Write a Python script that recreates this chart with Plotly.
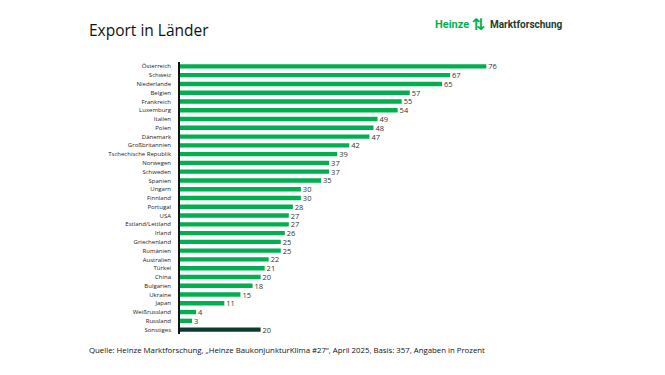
import plotly.graph_objects as go

countries = ["Österreich", "Schweiz", "Niederlande", "Belgien", "Frankreich", "Luxemburg",
             "Italien", "Polen", "Dänemark", "Großbritannien", "Tschechische Republik",
             "Norwegen", "Schweden", "Spanien", "Ungarn", "Finnland", "Portugal", "USA",
             "Estland/Lettland", "Irland", "Griechenland", "Rumänien", "Australien", "Türkei",
             "China", "Bulgarien", "Ukraine", "Japan", "Weißrussland", "Russland", "Sonstiges"]
values = [76, 67, 65, 57, 55, 54, 49, 48, 47, 42, 39, 37, 37, 35, 30, 30, 28, 27, 27, 26,
          25, 25, 22, 21, 20, 18, 15, 11, 4, 3, 20]

GREEN = "#00b050"
DARK = "#0e3b30"
colors = [DARK if c == "Sonstiges" else GREEN for c in countries]

FONT = "Open Sans, Noto Sans, sans-serif"

W, H = 665, 375
ML, MR, MT, MB = 180, 65, 62, 41
PW, PH = W - ML - MR, H - MT - MB


def px(x):
    return (x - ML) / PW


def py(y):
    return (H - MB - y) / PH


fig = go.Figure(go.Bar(
    x=values, y=countries, orientation="h",
    marker=dict(color=colors, line=dict(width=0)),
    width=0.5,
    text=[str(v) for v in values], texttemplate=" %{text}", textposition="outside",
    constraintext="none", textangle=0,
    textfont=dict(size=7.5, color="#333333", family=FONT),
    cliponaxis=False,
))

fig.update_layout(
    width=W, height=H,
    margin=dict(l=ML, r=MR, t=MT, b=MB, autoexpand=False),
    paper_bgcolor="white", plot_bgcolor="white",
    showlegend=False,
    font=dict(family=FONT),
    xaxis=dict(range=[0, 104.2], visible=False, automargin=False),
    yaxis=dict(categoryorder="array", categoryarray=countries[::-1],
               showline=True, linecolor="#111111", linewidth=1.5,
               ticks="", tickfont=dict(size=6, color="#222222", family=FONT),
               ticklabelstandoff=6, showgrid=False, zeroline=False, automargin=False),
    annotations=[
        dict(text="Export in Länder", x=px(87), y=py(30), xref="paper", yref="paper",
             showarrow=False, xanchor="left", yanchor="middle",
             font=dict(size=15.5, color="#111111", family=FONT)),
        dict(text="Quelle: Heinze Marktforschung, „Heinze BaukonjunkturKlima #27“, April 2025, Basis: 357, Angaben in Prozent",
             x=px(87), y=py(350), xref="paper", yref="paper", showarrow=False,
             xanchor="left", yanchor="middle",
             font=dict(size=7.8, color="#111111", family=FONT)),
        dict(text="<b>Heinze</b>", x=px(433), y=py(24), xref="paper", yref="paper",
             showarrow=False, xanchor="left", yanchor="middle",
             font=dict(size=11, color=GREEN, family="Roboto, sans-serif")),
        dict(text="<b>⇅</b>", x=px(478.5), y=py(24), xref="paper", yref="paper",
             showarrow=False, xanchor="center", yanchor="middle",
             font=dict(size=16, color=GREEN, family="DejaVu Sans")),
        dict(text="<b>Marktforschung</b>", x=px(488), y=py(24), xref="paper", yref="paper",
             showarrow=False, xanchor="left", yanchor="middle",
             font=dict(size=10, color="#1d3a32", family="Roboto, sans-serif")),
    ],
)

fig.write_html("out.html", config={"displayModeBar": False},
               post_script="document.body.style.margin='0';document.body.style.overflow='hidden';")
